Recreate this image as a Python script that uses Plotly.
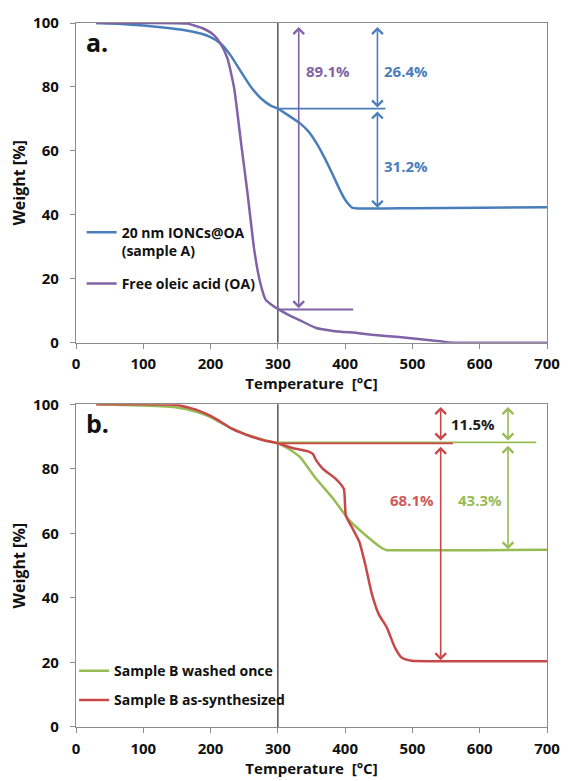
import plotly.graph_objects as go

# ---------------- data ----------------
# Panel a: 20 nm IONCs@OA (sample A)
a_ionc_T = [30, 60, 100, 130, 160, 185, 200, 215, 230, 245, 260, 275, 290, 300, 315,
            333, 345, 357, 370, 382, 393, 401, 411, 430, 500, 600, 700]
a_ionc_W = [100, 99.8, 99.2, 98.6, 97.8, 96.7, 95.6, 93.6, 89.8, 84.8, 80.0, 76.4, 74.1,
            73.2, 71.2, 68.6, 66.2, 62.6, 57.6, 52.4, 47.4, 44.4, 42.2, 42.0, 42.1, 42.2, 42.4]
# Panel a: Free oleic acid (OA)
a_oa_T = [30, 100, 165, 190, 205, 215, 225, 235, 245, 255, 265, 274, 282, 290, 300, 315,
          333, 357, 382, 420, 440, 480, 530, 555, 600, 700]
a_oa_W = [100, 100, 99.8, 98.2, 96.2, 93.5, 89.0, 79.7, 63.0, 46.6, 28.9, 18.6, 13.4, 12.0,
          10.6, 8.8, 7.0, 4.6, 3.7, 3.0, 2.5, 1.8, 0.7, 0.1, 0, 0]
# Panel b: Sample B washed once
b_wash_T = [30, 100, 150, 180, 200, 215, 230, 245, 260, 280, 300, 315, 333, 357, 382, 406,
            430, 455, 462, 500, 600, 700]
b_wash_W = [100, 99.6, 99.0, 97.6, 96.0, 94.3, 92.6, 91.3, 90.2, 88.9, 87.9, 86.3, 83.6,
            76.9, 70.8, 64.1, 59.5, 55.4, 54.8, 54.8, 54.8, 54.9]
# Panel b: Sample B as-synthesized
b_syn_T = [30, 100, 150, 180, 200, 215, 230, 245, 260, 280, 300, 323, 345, 352, 357, 367,
           386, 398, 401, 411, 421, 430, 440, 450, 462, 474, 484, 499, 550, 700]
b_syn_W = [100, 100, 99.8, 98.2, 96.4, 94.6, 92.6, 91.2, 90.0, 88.8, 87.9, 86.4, 85.4, 84.6,
           82.6, 80.0, 76.9, 73.8, 65.6, 61.5, 57.4, 50.3, 41.0, 34.9, 30.8, 24.6, 21.5,
           20.5, 20.4, 20.4]

series_names = ["20 nm IONCs@OA<br>(sample A)", "Free oleic acid (OA)",
                "Sample B washed once", "Sample B as-synthesized"]

x_ticks = [0, 100, 200, 300, 400, 500, 600, 700]
y_ticks = [0, 20, 40, 60, 80, 100]

# annotation values (mass-loss reading lines / arrows / labels)
ref_T = 300
a_guides = [  # (y, x_end, colour key)
    (73.2, 460, "blue"), (10.4, 412, "purple")]
b_guides = [(88.2, 684, "green"), (87.9, 560, "red")]
a_arrows = [  # (x, y_from, y_to, colour key)
    (331, 99.2, 10.8, "purple"), (448, 99.2, 73.6, "blue"), (448, 72.8, 42.2, "blue")]
b_arrows = [(542, 99.6, 88.8, "red"), (542, 87.3, 20.7, "red"),
            (642, 99.6, 88.8, "green"), (642, 87.6, 55.1, "green")]
a_labels = [("89.1%", 374, 85, "purple"), ("26.4%", 490, 85, "blue"), ("31.2%", 491, 55.2, "blue")]
b_labels = [("11.5%", 590, 93.8, "black"), ("68.1%", 499, 70.3, "redtxt"), ("43.3%", 601, 70.3, "green")]

# ---------------- styling ----------------
C = {"blue": "#4A7EBB", "purple": "#7F63A6", "green": "#98BC54", "red": "#C8484A",
     "redtxt": "#D0595A", "black": "#1a1a1a"}
FONT = "Open Sans"
AXIS_GREY = "#8C8C8C"

fig = go.Figure()

def add_line(T, W, name, color, xa, ya, legend):
    fig.add_trace(go.Scatter(x=T, y=W, name=name, mode="lines", legendgroup=name,
                             line=dict(color=color, width=2.5, shape="spline", smoothing=0.5),
                             xaxis=xa, yaxis=ya, legend=legend, hoverinfo="skip"))

add_line(a_ionc_T, a_ionc_W, series_names[0], C["blue"], "x", "y", "legend")
add_line(a_oa_T, a_oa_W, series_names[1], C["purple"], "x", "y", "legend")
add_line(b_wash_T, b_wash_W, series_names[2], C["green"], "x2", "y2", "legend2")
add_line(b_syn_T, b_syn_W, series_names[3], C["red"], "x2", "y2", "legend2")

shapes = []
annotations = []

for xr, yr, guides, arrows, labels, tag in [
        ("x", "y", a_guides, a_arrows, a_labels, "a."),
        ("x2", "y2", b_guides, b_arrows, b_labels, "b.")]:
    shapes.append(dict(type="line", xref=xr, yref=yr + " domain", x0=ref_T, x1=ref_T,
                       y0=0, y1=1, line=dict(color="#3a3a3a", width=1.3), layer="below"))
    for yv, xe, ck in guides:
        shapes.append(dict(type="line", xref=xr, yref=yr, x0=ref_T, x1=xe, y0=yv, y1=yv,
                           line=dict(color=C[ck], width=1.8), layer="below"))
    for xv, y0, y1, ck in arrows:
        annotations.append(dict(xref=xr, yref=yr, axref=xr, ayref=yr, x=xv, y=y1, ax=xv, ay=y0,
                                text="", showarrow=True, arrowside="end+start", arrowhead=4,
                                startarrowhead=4, arrowsize=1.3, startarrowsize=1.3,
                                arrowwidth=1.6, arrowcolor=C[ck]))
    for txt, xv, yv, ck in labels:
        annotations.append(dict(xref=xr, yref=yr, x=xv, y=yv, text=txt, showarrow=False,
                                font=dict(family=FONT, size=15, color=C[ck], weight="bold")))
    annotations.append(dict(xref=xr + " domain", yref=yr + " domain", x=0.018, y=1.0,
                            xanchor="left", yanchor="top", text=tag, showarrow=False,
                            font=dict(family=FONT, size=25, color="#111111", weight="bold")))

axis_common = dict(showgrid=False, zeroline=False, showline=True, linecolor=AXIS_GREY,
                   linewidth=1.3, mirror=True, ticks="outside", ticklen=5, tickcolor=AXIS_GREY,
                   tickwidth=1.2,
                   tickfont=dict(family=FONT, size=15, color="#111111", weight="bold"))

xt = dict(text="Temperature  [°C]", font=dict(family=FONT, size=15, color="#111111", weight="bold"),
          standoff=0)
yt = dict(text="Weight [%]", font=dict(family=FONT, size=16, color="#111111", weight="bold"),
          standoff=3)

fig.update_layout(
    width=572, height=781,
    margin=dict(l=76, r=18, t=21, b=51),
    paper_bgcolor="white", plot_bgcolor="white",
    showlegend=True,
    xaxis=dict(domain=[0, 1], range=[0, 700], tickvals=x_ticks, anchor="y", title=xt,
               ticklabelstandoff=2, **axis_common),
    yaxis=dict(domain=[0.5458, 1], range=[0, 100], tickvals=y_ticks, anchor="x", title=yt,
               ticklabelstandoff=8, **axis_common),
    xaxis2=dict(domain=[0, 1], range=[0, 700], tickvals=x_ticks, anchor="y2", title=xt,
                ticklabelstandoff=3, **axis_common),
    yaxis2=dict(domain=[0, 0.4584], range=[0, 100], tickvals=y_ticks, anchor="x2", title=yt,
                ticklabelstandoff=8, **axis_common),
    legend=dict(x=0.012, y=0.725, xanchor="left", yanchor="top", bgcolor="rgba(0,0,0,0)",
                font=dict(family=FONT, size=14, color="#111111", weight="bold"),
                valign="top", tracegroupgap=12, itemwidth=30),
    legend2=dict(x=-0.004, y=0.102, xanchor="left", yanchor="top", bgcolor="rgba(0,0,0,0)",
                 font=dict(family=FONT, size=14, color="#111111", weight="bold"),
                 valign="top", tracegroupgap=8, itemwidth=30),
    shapes=shapes,
    annotations=annotations,
)

fig.write_html("out.html", config={"displayModeBar": False},
               post_script="document.body.style.margin='0px';document.body.style.overflow='hidden';")
